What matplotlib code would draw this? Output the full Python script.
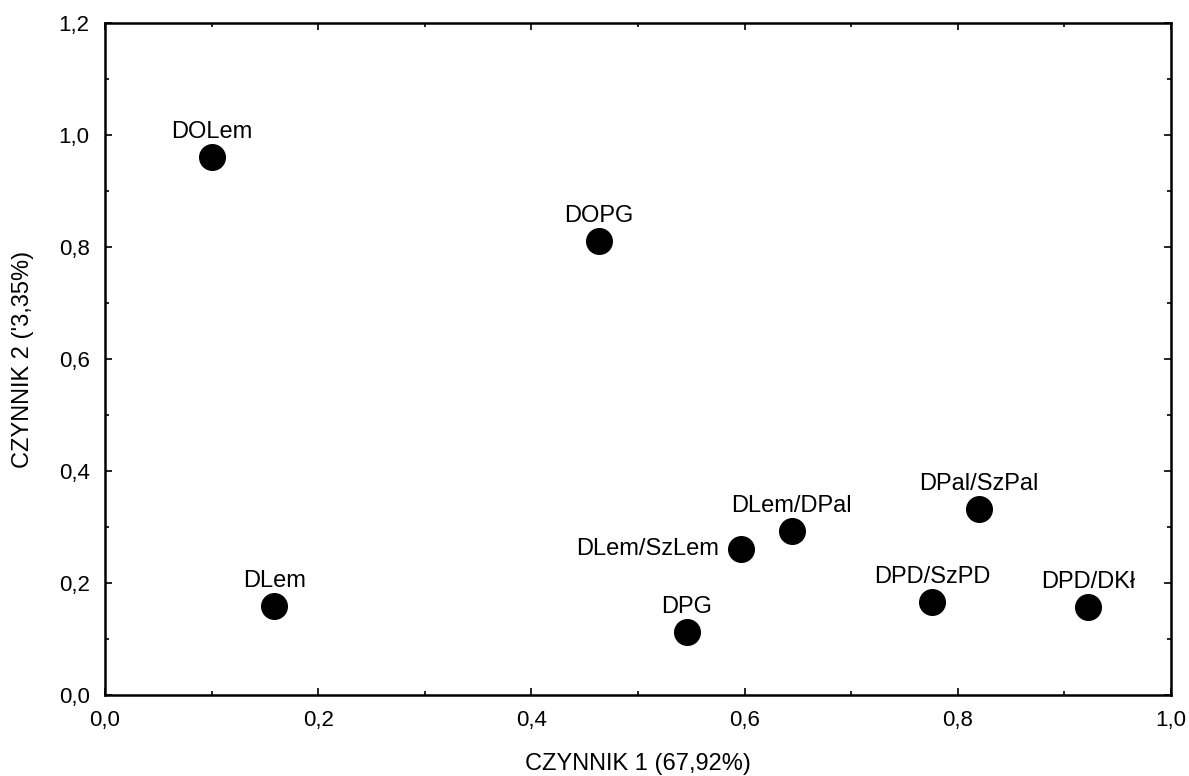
import matplotlib
matplotlib.use("Agg")
import matplotlib.pyplot as plt
from matplotlib.ticker import MultipleLocator, FuncFormatter

plt.rcParams['font.family'] = ['Liberation Sans', 'DejaVu Sans']

# point names and factor loadings
names = ["DOLem", "DOPG", "DLem", "DPG", "DLem/SzLem", "DLem/DPal",
         "DPal/SzPal", "DPD/SzPD", "DPD/DKł"]
factor1 = [0.100, 0.463, 0.159, 0.546, 0.597, 0.644, 0.820, 0.776, 0.922]
factor2 = [0.961, 0.811, 0.159, 0.113, 0.261, 0.293, 0.332, 0.166, 0.157]

x_ticks = [0.0, 0.2, 0.4, 0.6, 0.8, 1.0]
y_ticks = [0.0, 0.2, 0.4, 0.6, 0.8, 1.0, 1.2]

fig = plt.figure(figsize=(11.89, 7.76), dpi=100)
ax = fig.add_axes([0.0883, 0.1044, 0.8966, 0.866])

ax.scatter(factor1, factor2, s=340, color="black", zorder=3)

for n, x, y in zip(names, factor1, factor2):
    if n == "DLem/SzLem":
        ax.annotate(n, (x, y), xytext=(-16, 0), textcoords="offset points",
                    ha="right", va="center", fontsize=17)
    else:
        ax.annotate(n, (x, y), xytext=(0, 18), textcoords="offset points",
                    ha="center", va="center", fontsize=17)

ax.set_xlim(0, 1.0)
ax.set_ylim(0, 1.2)
ax.set_xticks(x_ticks)
ax.set_yticks(y_ticks)
ax.xaxis.set_minor_locator(MultipleLocator(0.1))
ax.yaxis.set_minor_locator(MultipleLocator(0.1))
comma = FuncFormatter(lambda v, p: f"{v:.1f}".replace(".", ","))
ax.xaxis.set_major_formatter(comma)
ax.yaxis.set_major_formatter(comma)

ax.tick_params(which="both", direction="in", top=True, right=True,
               labelsize=16, width=1.2)
ax.tick_params(which="major", length=5, pad=11)
ax.tick_params(which="minor", length=3)
for sp in ax.spines.values():
    sp.set_linewidth(1.8)

ax.set_xlabel("CZYNNIK 1 (67,92%)", fontsize=17, labelpad=16)
ax.set_ylabel("CZYNNIK 2 ('3,35%)", fontsize=17, labelpad=18)

fig.savefig("out.png", dpi=100)
